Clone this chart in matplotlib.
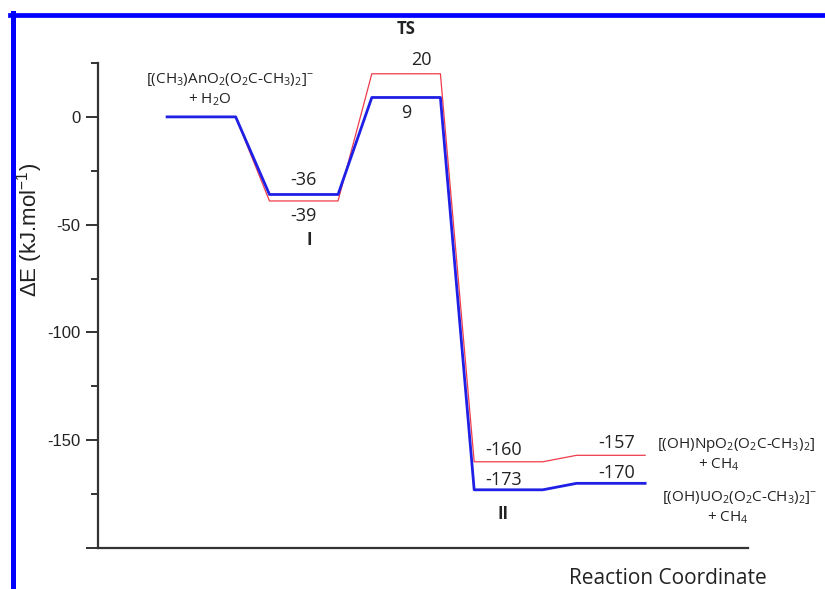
import matplotlib.pyplot as plt
from matplotlib.lines import Line2D

# energy levels (kJ/mol) for each state along the reaction coordinate
states = ['R', 'I', 'TS', 'II', 'P']
energy_u = [0, -36, 9, -173, -170]
energy_np = [0, -39, 20, -160, -157]
stage = [0, 1, 2, 3, 4]
half = 0.335

plt.rcParams['mathtext.default'] = 'regular'

fig = plt.figure(figsize=(8.25, 5.89), dpi=100)
ax = fig.add_axes([98/825, 41/589, 650/825, 485/589])


def profile(levels):
    xs, ys = [], []
    for s, e in zip(stage, levels):
        xs += [s - half, s + half]
        ys += [e, e]
    return xs, ys


xr, yr = profile(energy_np)
xb, yb = profile(energy_u)
ax.plot(xr, yr, color='#f03c4a', lw=0.9, zorder=2)
ax.plot(xb, yb, color='#1f1fe6', lw=2.0, zorder=3)

ax.set_xlim(-1.01, 5.34)
ax.set_ylim(-200, 25)
ax.set_yticks([0, -50, -100, -150, -200])
ax.set_yticklabels(['0', '-50', '-100', '-150', ''])
ax.set_yticks([25, -25, -75, -125, -175], minor=True)
ax.tick_params(axis='y', which='major', length=9, width=1.4, labelsize=12, color='#333333', labelcolor='#222222')
ax.tick_params(axis='y', which='minor', length=5, width=1.4, color='#333333')
ax.set_xticks([])
for side in ['top', 'right']:
    ax.spines[side].set_visible(False)
for side in ['left', 'bottom']:
    ax.spines[side].set_linewidth(1.6)
    ax.spines[side].set_color('#333333')
for lab in ax.get_yticklabels():
    lab.set_family('Liberation Sans')

ax.set_ylabel('ΔE (kJ.mol$^{-1}$)', fontsize=16, family='Liberation Sans', color='#222222')
ax.yaxis.set_label_coords(-0.081, 0.656)

tf = dict(family='Open Sans', color='#222222', ha='center')
# level values
ax.text(stage[1], energy_u[1] + 2.5, str(energy_u[1]), fontsize=13, va='bottom', **tf)
ax.text(stage[1], energy_np[1] - 3, str(energy_np[1]), fontsize=13, va='top', **tf)
ax.text(stage[1] + 0.05, -53, 'I', fontsize=12, va='top', fontweight='bold', **tf)
ax.text(stage[2] + 0.15, energy_np[2] + 2, str(energy_np[2]), fontsize=13, va='bottom', **tf)
ax.text(stage[2], energy_u[2] - 3, str(energy_u[2]), fontsize=13, va='top', **tf)
ax.text(stage[2], 41, 'TS', fontsize=12, fontweight='bold', va='center', clip_on=False, **tf)
ax.text(stage[3] - 0.05, energy_np[3] + 1.5, str(energy_np[3]), fontsize=13, va='bottom', **tf)
ax.text(stage[3] - 0.05, energy_u[3] + 0.5, str(energy_u[3]), fontsize=13, va='bottom', **tf)
ax.text(stage[3] - 0.05, -180, 'II', fontsize=12, fontweight='bold', va='top', **tf)
ax.text(stage[4] + 0.06, energy_np[4] + 1.5, str(energy_np[4]), fontsize=13, va='bottom', **tf)
ax.text(stage[4] + 0.06, energy_u[4] + 0.5, str(energy_u[4]), fontsize=13, va='bottom', **tf)

# species
sf = dict(family='Open Sans', color='#222222', fontsize=11, va='center', ha='center', clip_on=False)
ax.text(0.28, 17.5, '[(CH$_3$)AnO$_2$(O$_2$C-CH$_3$)$_2$]$^{-}$', **sf)
ax.text(0.08, 8, '+ H$_2$O', **sf)
ax.text(5.22, -152, '[(OH)NpO$_2$(O$_2$C-CH$_3$)$_2$]', **sf)
ax.text(5.05, -161.5, '+ CH$_4$', **sf)
ax.text(5.26, -176.5, '[(OH)UO$_2$(O$_2$C-CH$_3$)$_2$]$^{-}$', **sf)
ax.text(5.14, -186, '+ CH$_4$', **sf)

fig.text(668/825, 1 - 578/589, 'Reaction Coordinate', fontsize=15, family='Open Sans',
         color='#222222', ha='center', va='center')

# blue frame on left and top
fig.add_artist(Line2D([12.5/825, 12.5/825], [0, 1 - 13/589], transform=fig.transFigure, color='#0000ff', lw=3.6))
fig.add_artist(Line2D([10/825, 1], [1 - 15/589, 1 - 15/589], transform=fig.transFigure, color='#0000ff', lw=3.4))

plt.savefig('out.png')
